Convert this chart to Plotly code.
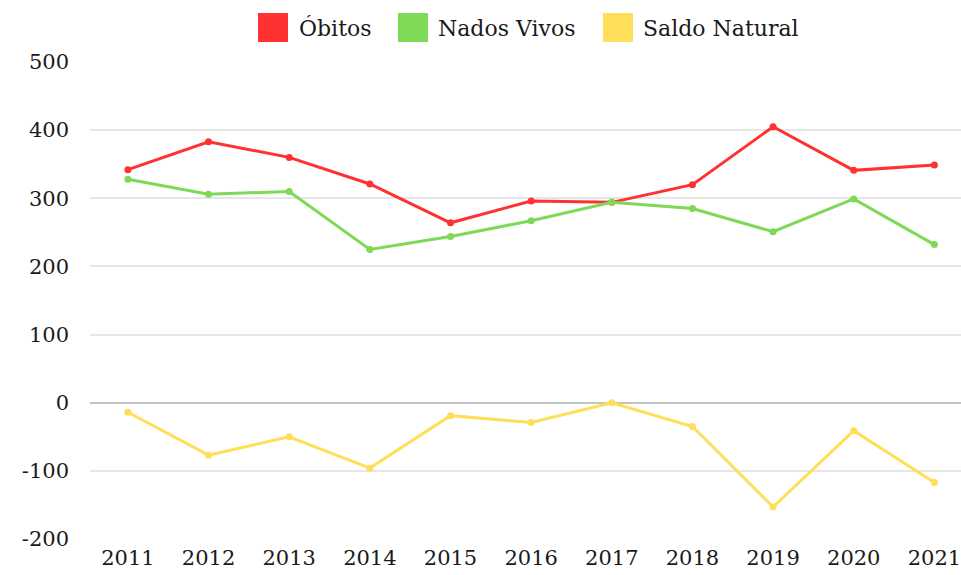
import plotly.graph_objects as go

anos = ["2011", "2012", "2013", "2014", "2015", "2016", "2017", "2018", "2019", "2020", "2021"]
obitos = [342, 383, 360, 321, 264, 296, 294, 320, 405, 341, 349]
nados_vivos = [328, 306, 310, 225, 244, 267, 294, 285, 251, 299, 232]
saldo_natural = [-14, -77, -50, -96, -19, -29, 0, -35, -153, -41, -117]

nomes = ["Óbitos", "Nados Vivos", "Saldo Natural"]
cores = ["#FF3131", "#7ED957", "#FFDE59"]

y_ticks = [-200, -100, 0, 100, 200, 300, 400, 500]
y_labels = ["-200", "-100", "0", "100", "200", "300", "400", "500"]

fonte = "DejaVu Serif"

fig = go.Figure()
for nome, valores, cor in zip(nomes, [obitos, nados_vivos, saldo_natural], cores):
    fig.add_trace(go.Scatter(x=anos, y=valores, mode="lines+markers", name=nome,
                             line=dict(color=cor, width=3),
                             marker=dict(color=cor, size=7),
                             showlegend=False))

# legenda feita a mao (quadrados grandes como no original)
W, L, H, B = 961, 90, 575, 36
plot_w = W - L
plot_h = 477
leg_quad = [258, 398, 603]
leg_txt = [297, 436, 641]
for i, nome in enumerate(nomes):
    x0 = (leg_quad[i] - L) / plot_w
    x1 = (leg_quad[i] + 30 - L) / plot_w
    y0 = (H - B - 42) / plot_h
    y1 = (H - B - 13) / plot_h
    fig.add_shape(type="rect", xref="paper", yref="paper", x0=x0, x1=x1, y0=y0, y1=y1,
                  fillcolor=cores[i], line=dict(width=0))
    fig.add_annotation(xref="paper", yref="paper", x=(leg_txt[i] - L) / plot_w,
                       y=(H - B - 28) / plot_h, text=nome, showarrow=False,
                       xanchor="left", yanchor="middle",
                       font=dict(family=fonte, size=22, color="#1a1a1a"))

fig.update_xaxes(range=[-0.47, 10.33], showgrid=False, zeroline=False, showline=False,
                 tickfont=dict(family=fonte, size=21, color="#1a1a1a"), ticklabelstandoff=4)
fig.update_yaxes(range=[-200, 500], tickvals=y_ticks, ticktext=y_labels,
                 showgrid=True, gridcolor="#E6E6E6", gridwidth=1.5,
                 zeroline=True, zerolinecolor="#C4C4C4", zerolinewidth=1.5,
                 showline=False, ticklabelstandoff=20,
                 tickfont=dict(family=fonte, size=21, color="#1a1a1a"))
fig.update_layout(width=W, height=H, margin=dict(l=L, r=0, t=62, b=B),
                  plot_bgcolor="white", paper_bgcolor="white")

# sem margem na pagina para o grafico ocupar a janela toda
fig.write_html("out.html", config={"displayModeBar": False},
               post_script="document.body.style.margin='0';document.body.style.overflow='hidden';")
